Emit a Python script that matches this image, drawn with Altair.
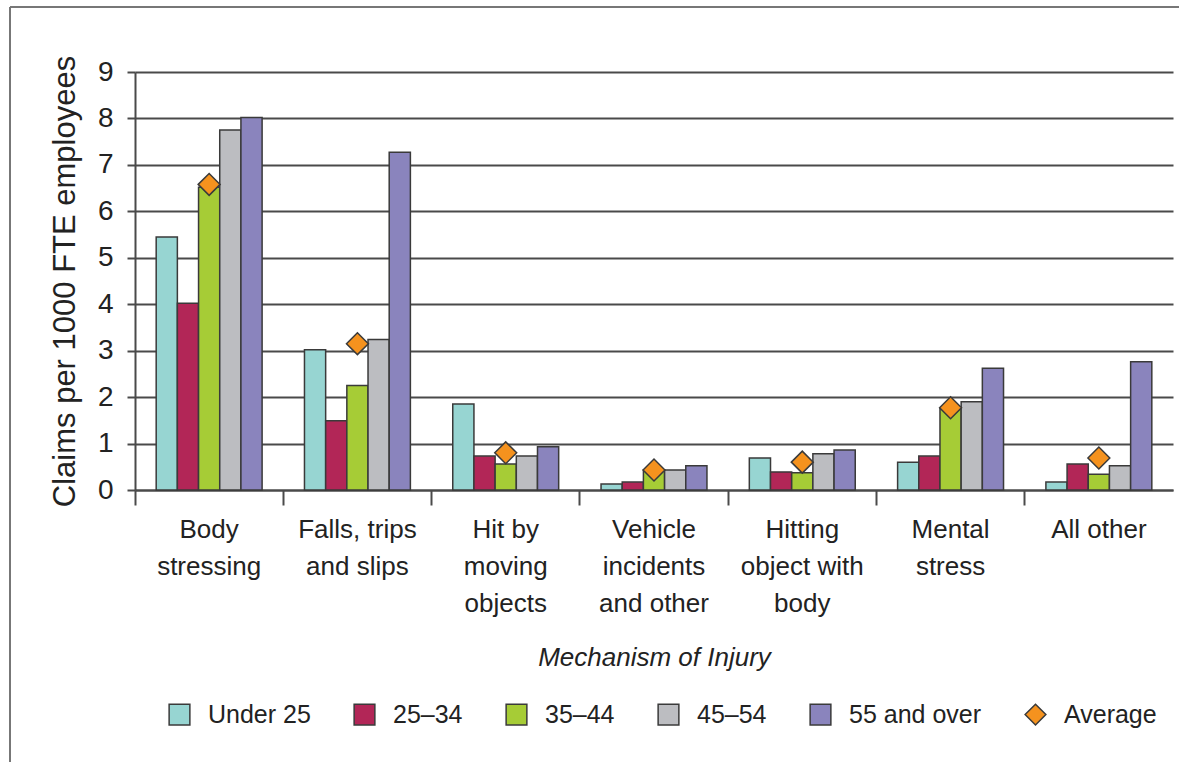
import json
import altair as alt
import pandas as pd

categories = ["Body stressing", "Falls, trips and slips", "Hit by moving objects",
              "Vehicle incidents and other", "Hitting object with body",
              "Mental stress", "All other"]
category_lines = [["Body", "stressing"], ["Falls, trips", "and slips"],
                  ["Hit by", "moving", "objects"], ["Vehicle", "incidents", "and other"],
                  ["Hitting", "object with", "body"], ["Mental", "stress"], ["All other"]]
series = ["Under 25", "25\u201334", "35\u201344", "45\u201354", "55 and over"]
under_25 = [5.45, 3.02, 1.85, 0.13, 0.69, 0.60, 0.17]
age_25_34 = [4.02, 1.49, 0.73, 0.17, 0.39, 0.73, 0.56]
age_35_44 = [6.52, 2.25, 0.56, 0.43, 0.37, 1.75, 0.34]
age_45_54 = [7.75, 3.24, 0.73, 0.43, 0.78, 1.90, 0.52]
age_55_over = [8.02, 7.27, 0.93, 0.52, 0.86, 2.62, 2.76]
average = [6.58, 3.15, 0.80, 0.43, 0.60, 1.77, 0.69]
avg_name = "Average"
colors = ["#97d5d2", "#b22657", "#a6cc36", "#bcbdc1", "#8a84bd", "#f5921e"]

rows = []
for s, vals in zip(series, [under_25, age_25_34, age_35_44, age_45_54, age_55_over]):
    for c, v in zip(categories, vals):
        rows.append({"mechanism": c, "group": s, "value": v})
bars_df = pd.DataFrame(rows)
avg_df = pd.DataFrame({"mechanism": categories, "group": avg_name, "value": average})

legend_domain = series + [avg_name]
label_map = json.dumps(dict(zip(categories, category_lines)))

FONT = "Liberation Sans, Arial"
EDGE = "#3a3a3a"

fill_scale = alt.Scale(domain=legend_domain, range=colors)
shape_scale = alt.Scale(domain=legend_domain, range=["square"] * 5 + ["diamond"])
stroke_scale = alt.Scale(domain=legend_domain, range=[EDGE] * 6)
legend = alt.Legend(title=None, orient="none", direction="horizontal",
                    legendX=32, legendY=630,
                    labelFont=FONT, labelFontSize=25, labelColor="#222",
                    symbolSize=430, symbolStrokeColor=EDGE,
                    symbolStrokeWidth=1.5, symbolOpacity=1,
                    columnPadding=40, labelOffset=16, columns=6)

x_enc = alt.X("mechanism:N", sort=categories,
              scale=alt.Scale(domain=categories, paddingInner=0, paddingOuter=0),
              axis=alt.Axis(title="Mechanism of Injury", titleFont=FONT,
                            titleFontSize=26, titleFontStyle="italic",
                            titleFontWeight="normal", titleColor="#222",
                            titlePadding=28,
                            labelExpr=f"{label_map}[datum.label]",
                            labelFont=FONT, labelFontSize=26, labelColor="#222",
                            labelLineHeight=37, labelAngle=0, labelPadding=11,
                            bandPosition=0, tickSize=15, tickColor="#4a4a4a",
                            tickWidth=2, domainColor="#4a4a4a", domainWidth=2,
                            grid=False))
y_enc = alt.Y("value:Q", scale=alt.Scale(domain=[0, 9], nice=False),
              axis=alt.Axis(title="Claims per 1000 FTE employees", titleFont=FONT,
                            titleFontSize=31, titleFontWeight="normal",
                            titleColor="#222", titlePadding=16,
                            values=list(range(10)), labelFont=FONT, labelFontSize=28,
                            labelColor="#222", labelPadding=14,
                            tickSize=8, tickColor="#4a4a4a", tickWidth=2,
                            domainColor="#4a4a4a", domainWidth=2,
                            grid=True, gridColor="#4a4a4a", gridWidth=2))

bars = alt.Chart(bars_df).mark_bar(strokeWidth=1.5).encode(
    x=x_enc,
    y=y_enc,
    xOffset=alt.XOffset("group:N", sort=series,
                        scale=alt.Scale(domain=series, paddingInner=0, paddingOuter=1.0)),
    fill=alt.Fill("group:N", scale=fill_scale, legend=legend),
    stroke=alt.Stroke("group:N", scale=stroke_scale, legend=legend),
)

points = alt.Chart(avg_df).mark_point(filled=True, opacity=1, size=480,
                                      strokeWidth=1.5).encode(
    x=alt.X("mechanism:N", sort=categories),
    y=alt.Y("value:Q"),
    fill=alt.Fill("group:N", scale=fill_scale, legend=legend),
    shape=alt.Shape("group:N", scale=shape_scale, legend=legend),
    stroke=alt.Stroke("group:N", scale=stroke_scale, legend=legend),
)

frame_left = alt.Chart(avg_df).mark_rule(color="#777", strokeWidth=2).encode(
    x=alt.value(-125), y=alt.value(-65), y2=alt.value(700))
frame_top = alt.Chart(avg_df).mark_rule(color="#777", strokeWidth=2).encode(
    x=alt.value(-125), x2=alt.value(1050), y=alt.value(-65))

chart = alt.layer(frame_left, frame_top, bars, points).properties(
    width=1038, height=418, autosize="none",
    padding={"left": 135, "top": 72, "right": 6, "bottom": 272},
    background="white",
).configure_view(stroke=None)

chart.save("out.html", embed_options={"renderer": "svg", "actions": False})
